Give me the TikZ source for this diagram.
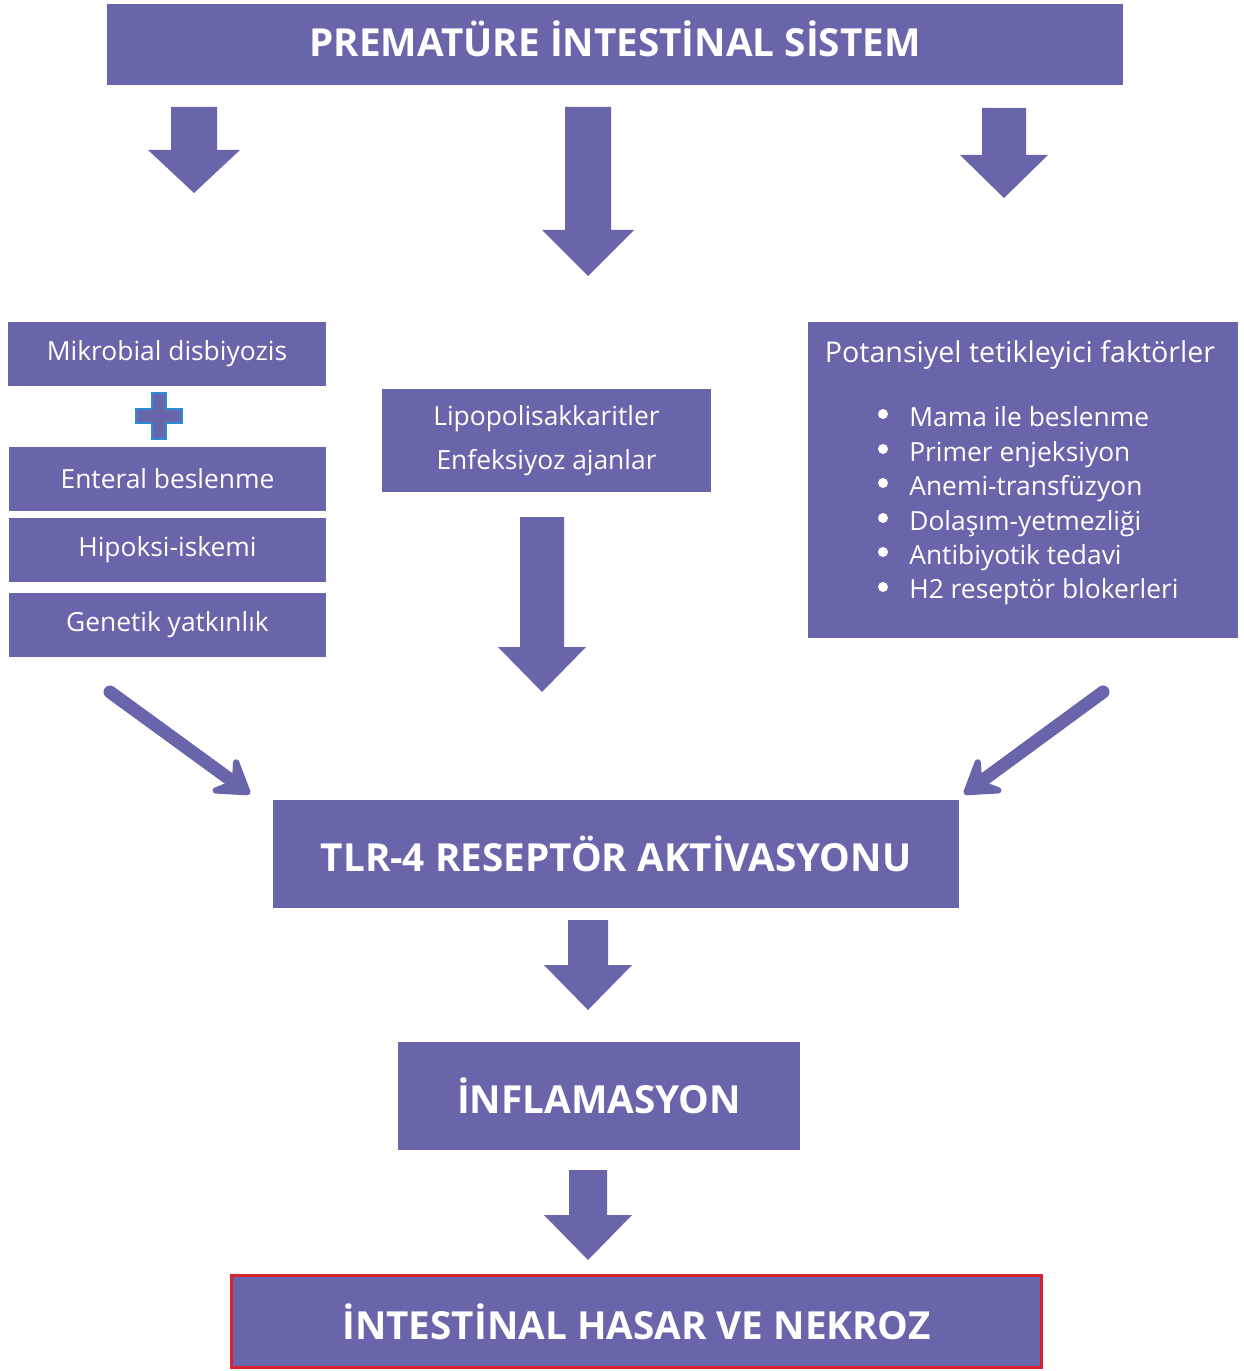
\documentclass[tikz,border=0pt]{standalone}
\usepackage{fontspec}
\setmainfont{Open Sans}
\usetikzlibrary{arrows.meta}
\definecolor{lavender}{RGB}{104,101,170}
\definecolor{plusblue}{RGB}{40,140,205}
\definecolor{redframe}{RGB}{215,35,45}

% block arrow pointing down: x, top, neck, tip, half shaft, half head
\newcommand{\dnarrow}[6]{%
  \fill[lavender] ({#1-#5},#2) -- ({#1+#5},#2) -- ({#1+#5},#3) -- ({#1+#6},#3)
    -- (#1,#4) -- ({#1-#6},#3) -- ({#1-#5},#3) -- cycle;}

\begin{document}
\begin{tikzpicture}[x=0.02cm,y=-0.02cm,
  box/.style={fill=lavender, text=white, inner sep=0pt},
  bigbox/.style={box, font=\bfseries\fontsize{22}{26}\selectfont},
  smallbox/.style={box, font=\fontsize{15}{19.6}\selectfont},
  slant/.style={draw=lavender, line width=0.26cm, line cap=round,
    -{Stealth[length=0.85cm, width=1.1cm, inset=0.35cm, round]}}]
\useasboundingbox (0,0) rectangle (1243,1371);

% top
\node[bigbox, minimum width=20.32cm, minimum height=1.62cm, text depth=0.25cm] (sistem) at (615,44.5) {PREMATÜRE İNTESTİNAL SİSTEM};
\dnarrow{194}{107}{150}{193}{23}{46}
\dnarrow{588}{107}{230}{276}{23}{46}
\dnarrow{1004}{108}{155}{198}{22}{44}

% left column
\node[smallbox, minimum width=6.36cm, minimum height=1.28cm] (mikro) at (167,354) {Mikrobial disbiyozis};
\draw[plusblue, fill=lavender, line width=0.8pt] (152,393) -- (166,393) -- (166,409) -- (182,409) -- (182,423) -- (166,423)
  -- (166,439) -- (152,439) -- (152,423) -- (136,423) -- (136,409) -- (152,409) -- cycle;
\node[smallbox, minimum width=6.34cm, minimum height=1.28cm] (enteral) at (167.5,479) {Enteral beslenme};
\node[smallbox, minimum width=6.34cm, minimum height=1.28cm] (hipoksi) at (167.5,550) {Hipoksi-iskemi};
\node[smallbox, minimum width=6.34cm, minimum height=1.28cm] (genetik) at (167.5,625) {Genetik yatkınlık};

% middle column
\node[smallbox, minimum width=6.58cm, minimum height=2.06cm, align=center,
  font=\fontsize{15}{25}\selectfont] (lipo) at (546.5,440.5) {Lipopolisakkaritler\\Enfeksiyoz ajanlar};
\dnarrow{542}{517}{647}{692}{22}{44}

% right column
\node[box, minimum width=8.6cm, minimum height=6.32cm] (faktor) at (1023,480) {};
\node[text=white, font=\fontsize{16.3}{19.6}\selectfont, inner sep=0pt] (ftitle) at (1020,355) {Potansiyel tetikleyici faktörler};
\node[text=white, font=\fontsize{15}{19.6}\selectfont, inner sep=0pt, anchor=west, align=left] (flist) at (909,506)
  {Mama ile beslenme\\
   Primer enjeksiyon\\
   Anemi-transfüzyon\\
   Dolaşım-yetmezliği\\
   Antibiyotik tedavi\\
   H2 reseptör blokerleri};
\foreach \yb in {414,449,483,518,552,587}
  \fill[white] (883,\yb) circle (0.1cm);

% slanted arrows
\coordinate (lstart) at (110,692);
\coordinate (lend) at (250,794);
\coordinate (rstart) at (1103,692);
\coordinate (rend) at (964,794);
\draw[slant] (lstart) -- (lend);
\draw[slant] (rstart) -- (rend);

% bottom chain
\node[bigbox, minimum width=13.72cm, minimum height=2.16cm] (tlr) at (616,854) {TLR-4 RESEPTÖR AKTİVASYONU};
\dnarrow{588}{920}{965}{1010}{20}{44}
\node[bigbox, minimum width=8.04cm, minimum height=2.16cm] (inflam) at (599,1096) {İNFLAMASYON};
\dnarrow{588}{1170}{1215}{1260}{19}{44}
\node[bigbox, draw=redframe, line width=0.06cm, minimum width=16.2cm, minimum height=1.84cm] (nekroz) at (636.5,1321.5) {İNTESTİNAL HASAR VE NEKROZ};
\end{tikzpicture}
\end{document}
